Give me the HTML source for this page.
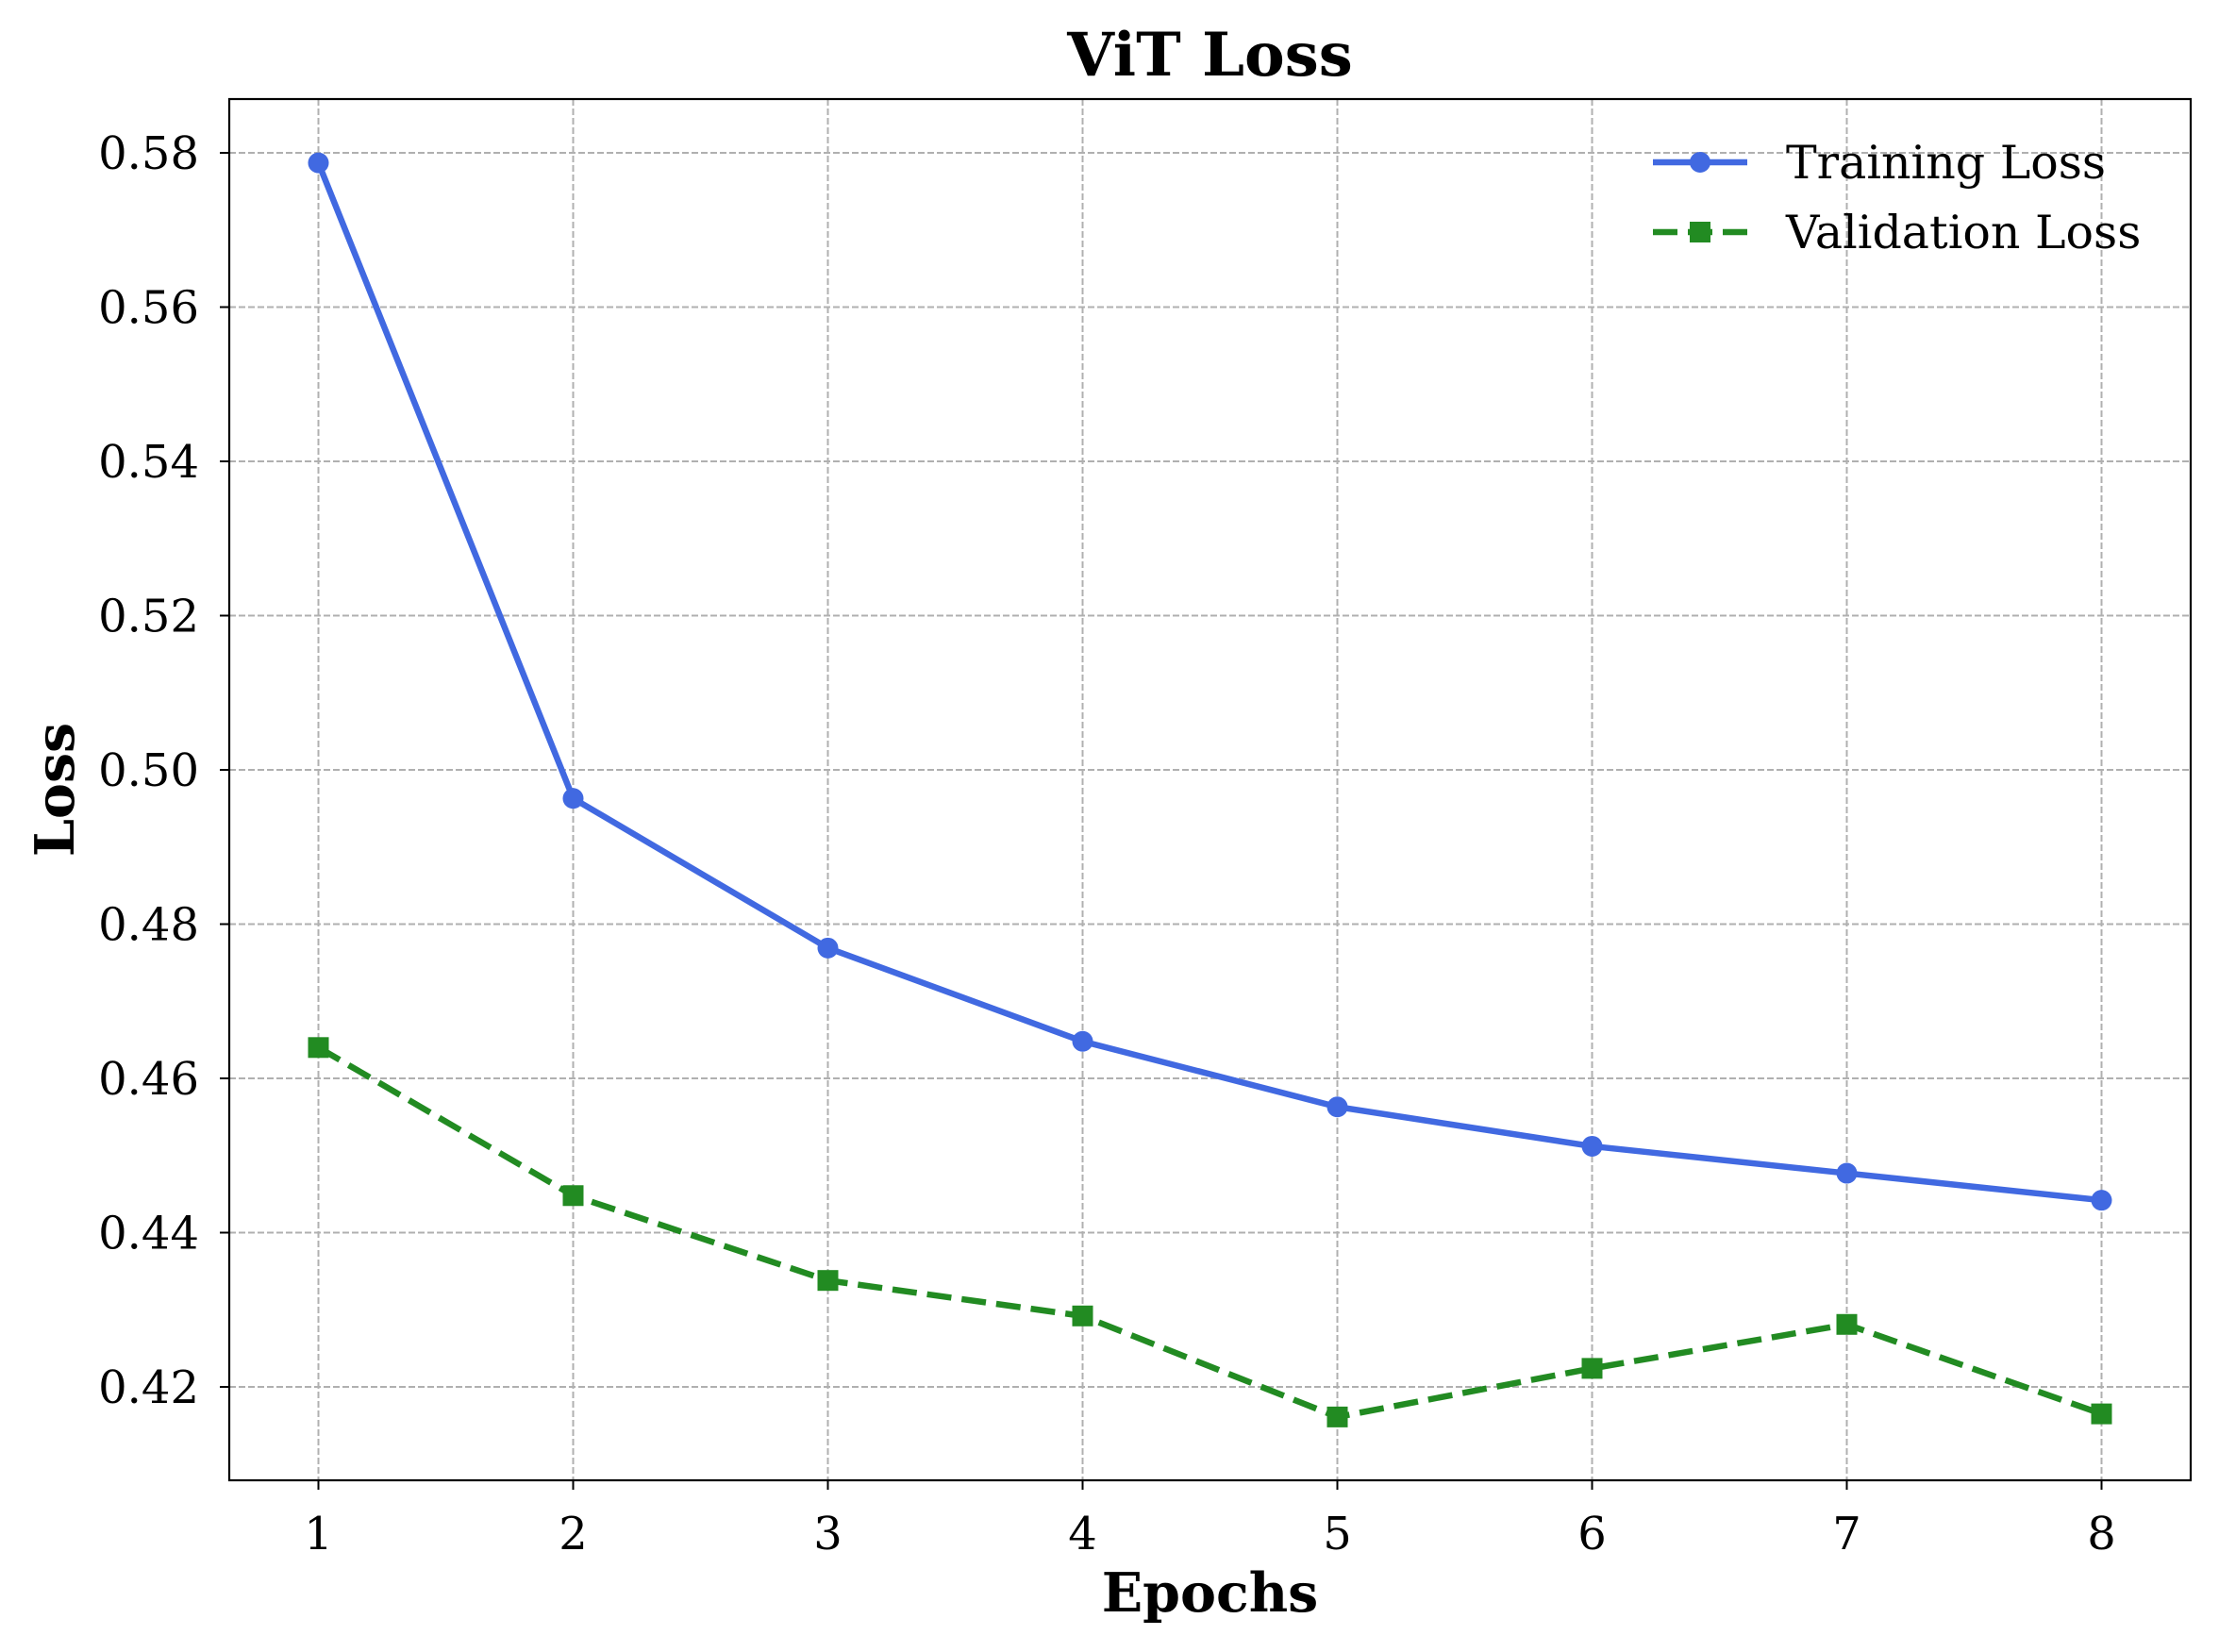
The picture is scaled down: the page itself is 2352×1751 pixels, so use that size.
<!DOCTYPE html>
<html><head><meta charset="utf-8"><style>body{margin:0;background:#fff}svg{display:block}text{font-family:"DejaVu Serif","Liberation Serif",serif;fill:#000}</style></head>
<body>
<svg id="chart" width="2352" height="1751" xmlns="http://www.w3.org/2000/svg">
<rect width="2352" height="1751" fill="#fff"/>
<g id="grid"></g><g id="series"></g><g id="axes"></g>
</svg>
<script>
const epochs=[1,2,3,4,5,6,7,8];
const trainLoss=[0.5787,0.4963,0.4769,0.4648,0.4563,0.4512,0.4477,0.4442];
const valLoss=[0.4640,0.4448,0.4338,0.4292,0.4161,0.4224,0.4281,0.4165];
const yTicks=[0.42,0.44,0.46,0.48,0.50,0.52,0.54,0.56,0.58];
const L=243,R=2322,T=105,B=1569;
const x=e=>337.5+(e-1)*(2227.5-337.5)/7;
const y=v=>162+(0.58-v)*(1470-162)/0.16;
const NS='http://www.w3.org/2000/svg';
function mk(p,tag,a,txt){const el=document.createElementNS(NS,tag);for(const k in a)el.setAttribute(k,a[k]);if(txt!==undefined)el.textContent=txt;p.appendChild(el);return el;}
const grid=document.getElementById('grid'),ser=document.getElementById('series'),ax=document.getElementById('axes');
epochs.forEach(e=>{
 const g=mk(grid,'line',{x1:x(e),x2:x(e),y1:T,y2:B,stroke:'#b0b0b0','stroke-width':2,'stroke-dasharray':'7,3'});
 
 
 const tk=mk(ax,'line',{x1:x(e),x2:x(e),y1:B,y2:B+10,stroke:'#000','stroke-width':2});
 
 
 const t=mk(ax,'text',{x:x(e),y:1642,'font-size':48,'text-anchor':'middle'},String(e));
 
 
});
yTicks.forEach(v=>{
 const g=mk(grid,'line',{x1:L,x2:R,y1:y(v),y2:y(v),stroke:'#b0b0b0','stroke-width':2,'stroke-dasharray':'7,3'});
 
 
 const tk=mk(ax,'line',{x1:L-10,x2:L,y1:y(v),y2:y(v),stroke:'#000','stroke-width':2});
 
 
 const t=mk(ax,'text',{x:211,y:y(v)+17,'font-size':48,'text-anchor':'end'},v.toFixed(2));
 
 
});
const frame=mk(ax,'rect',{x:L,y:T,width:R-L,height:B-T,fill:'none',stroke:'#000','stroke-width':2.2});


const tl=mk(ser,'polyline',{points:epochs.map((e,i)=>x(e)+','+y(trainLoss[i])).join(' '),fill:'none',stroke:'#4169e1','stroke-width':6.5});


const vl=mk(ser,'polyline',{points:epochs.map((e,i)=>x(e)+','+y(valLoss[i])).join(' '),fill:'none',stroke:'#228b22','stroke-width':6.5,'stroke-dasharray':'26,11'});


epochs.forEach((e,i)=>{
 const c=mk(ser,'circle',{cx:x(e),cy:y(trainLoss[i]),r:11,fill:'#4169e1'});
 
 
 const s=mk(ser,'rect',{x:x(e)-11,y:y(valLoss[i])-11,width:22,height:22,fill:'#228b22'});
 
 
});
const title=mk(ax,'text',{x:(L+R)/2,y:80,'font-size':64,'font-weight':'bold','text-anchor':'middle'},'ViT Loss');


const xl=mk(ax,'text',{x:(L+R)/2,y:1708,'font-size':57,'font-weight':'bold','text-anchor':'middle'},'Epochs');


const yl=mk(ax,'text',{x:0,y:0,'font-size':57,'font-weight':'bold','text-anchor':'middle',transform:'translate(78,837) rotate(-90)'},'Loss');


const lg=mk(ax,'g',{});


mk(lg,'line',{x1:1752,x2:1852,y1:172,y2:172,stroke:'#4169e1','stroke-width':6.5});
mk(lg,'circle',{cx:1802,cy:172,r:11,fill:'#4169e1'});
const t1=mk(lg,'text',{x:1893,y:189,'font-size':49},'Training Loss');


mk(lg,'line',{x1:1752,x2:1852,y1:246,y2:246,stroke:'#228b22','stroke-width':6.5,'stroke-dasharray':'26,11'});
mk(lg,'rect',{x:1791,y:235,width:22,height:22,fill:'#228b22'});
const t2=mk(lg,'text',{x:1893,y:263,'font-size':49},'Validation Loss');


</script>
</body></html>
